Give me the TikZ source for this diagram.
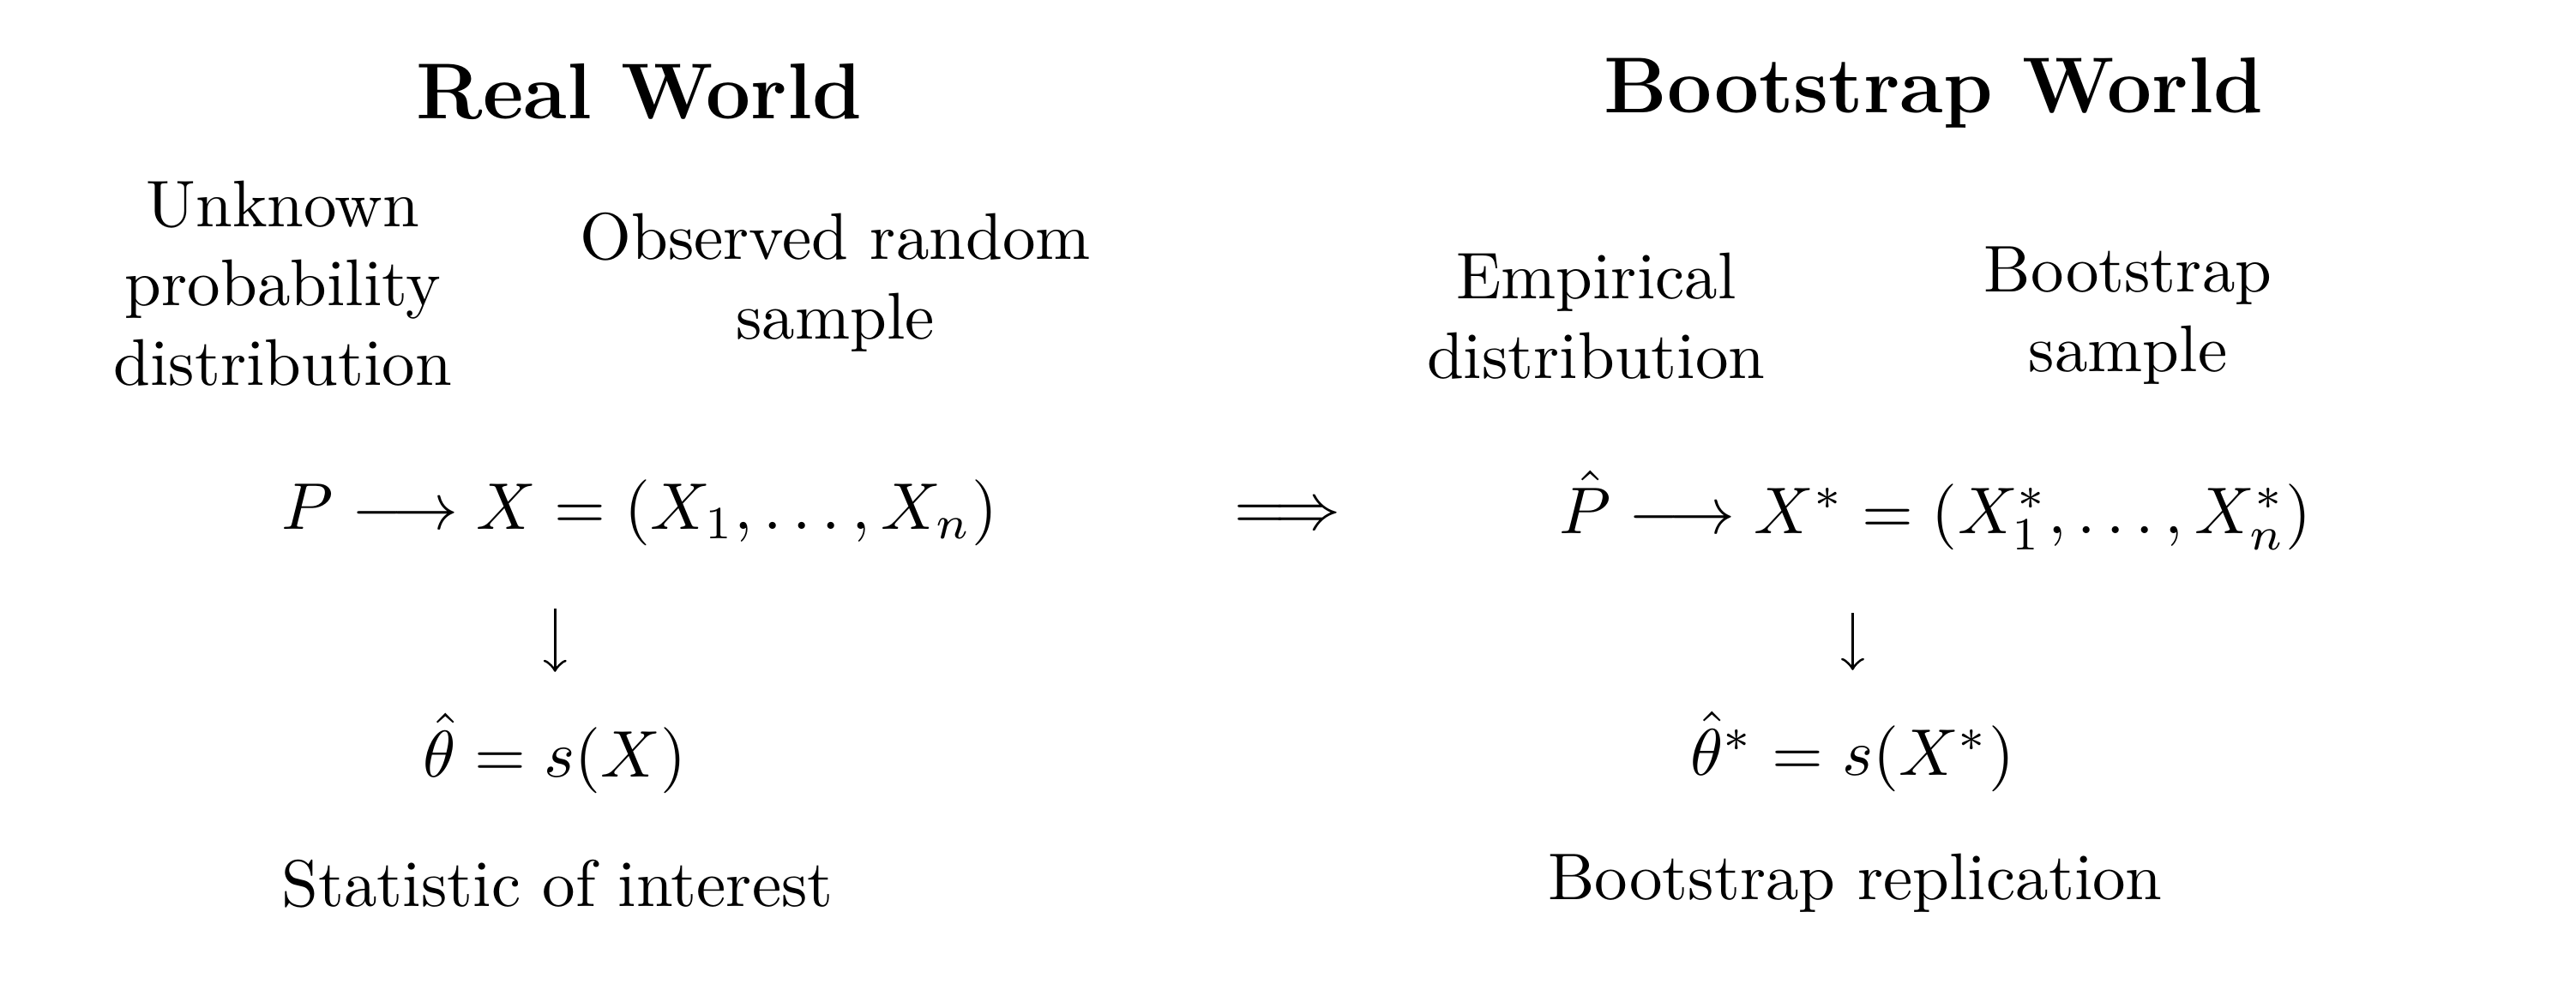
\documentclass[tikz,border=0pt]{standalone}
\usepackage{amsmath}
\begin{document}
\begin{tikzpicture}[
    heading/.style={
        font=\large\bfseries,
        inner sep=0pt,
        anchor=base
    },
    caption/.style={
        align=center,
        inner sep=0pt,
        anchor=base
    },
    formula/.style={
        inner sep=0pt,
        anchor=base
    },
    down/.style={
        ->,
        shorten <=0.33cm,
        shorten >=0.215cm
    }
]
\useasboundingbox (0,0) rectangle (13.71,-5.268);

% Titles
\node[heading] (realtitle) at (3.401,-0.630) {Real World};
\node[heading] (boottitle) at (10.290,-0.598) {Bootstrap World};

% Descriptions (base = last line)
\node[caption] (unknown) at (1.506,-2.050) {Unknown\\probability\\distribution};
\node[caption] (observed) at (4.446,-1.803) {Observed random\\sample};
\node[caption] (empirical) at (8.495,-2.013) {Empirical\\distribution};
\node[caption] (bootsample) at (11.326,-1.977) {Bootstrap\\sample};

% Sampling
\node[formula] (realmath) at (3.405,-2.817) {$P \longrightarrow X = (X_1, \ldots, X_n)$};
\node[formula] (implies) at (6.852,-2.817) {$\Longrightarrow$};
\node[formula] (bootmath) at (10.299,-2.839) {$\hat{P} \longrightarrow X^* = (X_1^*, \ldots, X_n^*)$};

% Statistics
\node[formula] (realstat) at (2.954,-4.136) {$\hat{\theta} = s(X)$};
\node[formula] (bootstat) at (9.860,-4.127) {$\hat{\theta}^* = s(X^*)$};
\draw[down] (realmath.south -| realstat.north) -- (realstat.north);
\draw[down] (bootmath.south -| bootstat.north) -- (bootstat.north);

\node[caption] (reallabel) at (2.967,-4.825) {Statistic of interest};
\node[caption] (bootlabel) at (9.874,-4.789) {Bootstrap replication};

\end{tikzpicture}
\end{document}
